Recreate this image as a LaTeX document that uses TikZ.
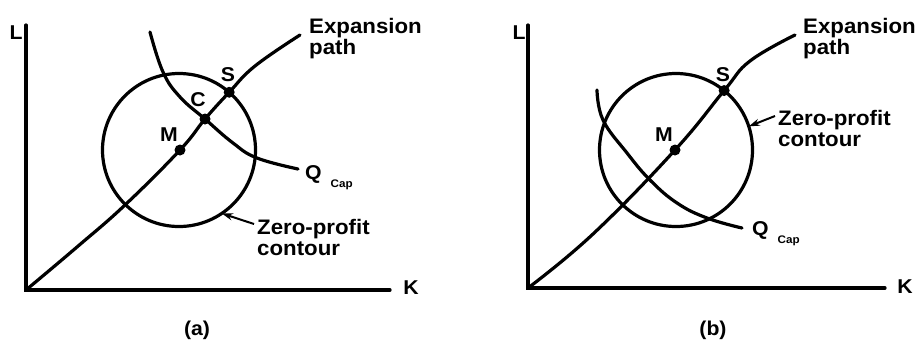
\documentclass[tikz,border=0pt]{standalone}
\usepackage{fontspec}
\setmainfont{Liberation Sans}[FakeStretch=1.06]
\usetikzlibrary{positioning,arrows.meta}
\tikzset{
	curve/.style={line width=3.2pt, line cap=round},
	dot/.style={circle, fill=black, inner sep=0pt, minimum size=11pt},
	lbl/.style={font=\fontsize{20}{20}\selectfont\bfseries, inner sep=0pt},
	txt/.style={font=\fontsize{21}{21}\selectfont\bfseries, align=left, inner sep=0pt},
	contour/.style={circle, draw, line width=3.2pt, minimum size=153pt, inner sep=0pt, outer sep=0pt},
	pointer/.style={line width=2pt, -{Stealth[length=11pt,width=7pt]}}
}
\newcommand{\qcap}{Q\hspace{9pt}\raisebox{-8pt}{\fontsize{11}{11}\selectfont Cap}}
\begin{document}
\begin{tikzpicture}[x=1pt, y=-1pt]
	\useasboundingbox (0,0) rectangle (918,341);
	% (a)
	\coordinate (oa) at (26,290);
	\draw[curve] (26,25) -- (oa) -- (390,290);
	\node[lbl] (La) at (16,33) {L}; \node[lbl] (Ka) at (411,288) {K};
	\node[contour] (cona) at (179,150) {};
	\coordinate (ma) at (180,150); \coordinate (ca) at (205,119); \coordinate (sa) at (cona.49);
	\coordinate (enda) at (300,35); \coordinate (qenda) at (298,169);
	\draw[curve] plot[smooth, tension=0.7] coordinates {(oa) (77,247) (125,205) (ma) (ca) (sa) (255,66) (enda)};
	\draw[curve] plot[smooth, tension=0.7] coordinates {(150,32) (163,72) (180,97) (ca) (233,143) (257,158) (qenda)};
	\node[dot] (dma) at (ma) {}; \node[dot] (dca) at (ca) {}; \node[dot] (dsa) at (sa) {};
	\node[lbl] (Ma) at (169,135) {M}; \node[lbl] (Ca) at (198,100) {C}; \node[lbl] (Sa) at (228,75) {S};
	\node[txt, anchor=north west] (expa) at (309,18) {Expansion\\path};
	\node[lbl, anchor=base west] (qa) at (305,179) {\qcap};
	\node[txt, anchor=north west] (zpa) at (257,219) {Zero-profit\\contour};
	\draw[pointer] ([shift={(-3pt,-5pt)}]zpa.north west) -- (cona.-56);
	\node[lbl] (capa) at (197,330) {(a)};
	% (b)
	\coordinate (ob) at (528,288);
	\draw[curve] (528,25) -- (ob) -- (885,288);
	\node[lbl] (Lb) at (519,33) {L}; \node[lbl] (Kb) at (905,287) {K};
	\node[contour] (conb) at (676,150) {};
	\coordinate (mb) at (675,150); \coordinate (sb) at (conb.51);
	\coordinate (endb) at (795,35); \coordinate (qendb) at (742,228);
	\draw[curve] plot[smooth, tension=0.7] coordinates {(ob) (593,234) (mb) (sb) (750,61) (endb)};
	\draw[curve] plot[smooth, tension=0.7] coordinates {(597,90) (603,120) (627,153) (650,180) (677,203) (707,218) (qendb)};
	\node[dot] (dmb) at (mb) {}; \node[dot] (dsb) at (sb) {};
	\node[lbl] (Mb) at (664,135) {M}; \node[lbl] (Sb) at (723,75) {S};
	\node[txt, anchor=north west] (expb) at (803,18) {Expansion\\path};
	\node[lbl, anchor=base west] (qb) at (752,235) {\qcap};
	\node[txt, anchor=north west] (zpb) at (778,110) {Zero-profit\\contour};
	\draw[pointer] ([shift={(-3pt,-6pt)}]zpb.north west) -- (conb.18);
	\node[lbl] (capb) at (713,330) {(b)};
\end{tikzpicture}
\end{document}
